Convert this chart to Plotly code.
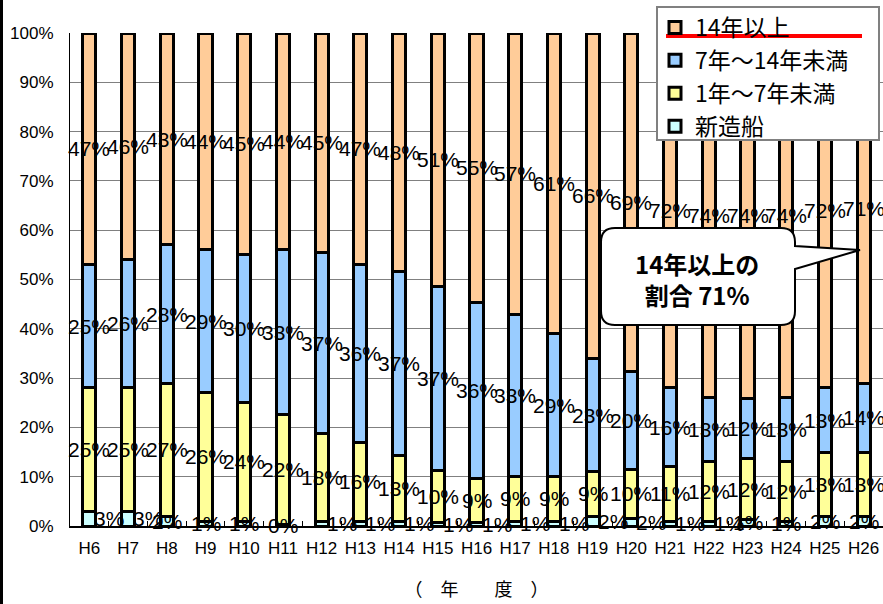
import plotly.graph_objects as go

# Fiscal years (Heisei era)
years = ["H6", "H7", "H8", "H9", "H10", "H11", "H12", "H13", "H14", "H15", "H16",
         "H17", "H18", "H19", "H20", "H21", "H22", "H23", "H24", "H25", "H26"]

# Share of vessels by age bracket (%)
new_ship = [3, 3, 2, 1, 1, 0.4, 1.0, 1, 1.0, 0.8, 0.8, 1, 1, 2, 1.6, 1, 1, 1.3, 1, 2, 2]
age_1_7 = [25, 25, 27, 26, 24, 22.2, 17.8, 16, 13.2, 10.4, 8.8, 9, 9, 9, 9.8, 11, 12, 12.3, 12, 13, 13]
age_7_14 = [25, 26, 28, 29, 30, 33.4, 36.6, 36, 37.4, 37.4, 35.8, 33, 29, 23, 20.0, 16, 13, 12.2, 13, 13, 14]
age_14_plus = [47, 46, 43, 44, 45, 44.0, 44.6, 47, 48.4, 51.4, 54.6, 57, 61, 66, 68.6, 72, 74, 74.2, 74, 72, 71]

series_names = ["新造船", "1年～7年未満", "7年～14年未満", "14年以上"]
series_values = [new_ship, age_1_7, age_7_14, age_14_plus]
series_colors = ["#CCFFFF", "#FFFF99", "#99CCFF", "#FFCC99"]

# horizontal nudge (px) for the thin new-ship labels
newship_label_dx = [20, 20, 0, 0, 0, 0, 20, 20, 20, 20, 20, 20, 20, 20, 20, 20, 20, 0, 0, 0, 0]

W, H = 883, 604
L, R, T, B = 70, 0, 33, 78
PW, PH = W - L - R, H - T - B


def px(x):
    return (x - L) / PW


def py(y):
    return (H - B - y) / PH


fig = go.Figure()
for name, vals, col in zip(series_names, series_values, series_colors):
    fig.add_trace(go.Bar(
        x=years, y=vals, name=name, width=0.34,
        marker=dict(color=col, line=dict(color="black", width=3)),
        legendgroup=name, hoverinfo="skip",
    ))

label_font = dict(family="Liberation Sans Narrow, Arial Narrow, Liberation Sans", size=21, color="black")
annotations = []
for i, yr in enumerate(years):
    base = 0.0
    for s, vals in enumerate(series_values):
        v = vals[i]
        annotations.append(dict(
            x=yr, y=base + v / 2, xref="x", yref="y",
            text=f"{round(v):.0f}%", showarrow=False, font=label_font,
            xshift=newship_label_dx[i] if s == 0 else 0,
        ))
        base += v

# callout text
annotations.append(dict(
    x=px(697), y=py(279), xref="paper", yref="paper",
    xanchor="center", yanchor="middle",
    text="<b>14年以上の<br>割合 71%</b>", showarrow=False,
    font=dict(family="Noto Sans CJK JP", size=24, color="black"),
    align="center",
))

# callout bubble with pointer
pts = [
    ("M", 615, 228), ("L", 781, 228), ("Q", 795, 228, 795, 242), ("L", 795, 246),
    ("L", 860, 250), ("L", 795, 269), ("L", 795, 311), ("Q", 795, 325, 781, 325),
    ("L", 615, 325), ("Q", 601, 325, 601, 311), ("L", 601, 242), ("Q", 601, 228, 615, 228),
]
path = ""
for p in pts:
    cmd, coords = p[0], p[1:]
    xy = []
    for k in range(0, len(coords), 2):
        xy.append(f"{px(coords[k]):.5f},{py(coords[k + 1]):.5f}")
    path += cmd + " ".join(xy) + " "
path += "Z"

shapes = [
    dict(type="path", path=path, xref="paper", yref="paper",
         fillcolor="white", line=dict(color="black", width=2), layer="above"),
    # legend frame
    dict(type="rect", xref="paper", yref="paper",
         x0=px(657), x1=px(879), y0=py(140), y1=py(7),
         fillcolor="white", line=dict(color="#808080", width=2), layer="above"),
    # red underline on the first legend entry
    dict(type="line", xref="paper", yref="paper",
         x0=px(666), x1=px(862), y0=py(36), y1=py(36),
         line=dict(color="#FF0000", width=4), layer="above"),
    # left page border
    dict(type="line", xref="paper", yref="paper",
         x0=px(1.5), x1=px(1.5), y0=py(0), y1=py(604),
         line=dict(color="black", width=3), layer="above"),
]

fig.update_layout(
    width=W, height=H,
    margin=dict(l=L, r=R, t=T, b=B),
    barmode="stack",
    plot_bgcolor="white", paper_bgcolor="white",
    font=dict(family="Liberation Sans, Arial", color="black"),
    showlegend=True,
    legend=dict(
        x=px(655), y=py(6), xanchor="left", yanchor="top",
        bgcolor="rgba(0,0,0,0)", borderwidth=0,
        traceorder="reversed", tracegroupgap=0,
        font=dict(family="Noto Sans CJK JP", size=23, color="black"),
    ),
    xaxis=dict(
        range=[-0.5, 20.5], showline=True, linecolor="black", linewidth=2,
        ticks="inside", tickson="boundaries", ticklen=5, tickcolor="black",
        tickangle=0, tickfont=dict(size=17), ticklabelstandoff=6,
        title=dict(text="（　年　　度　）", font=dict(family="Noto Sans CJK JP", size=18), standoff=26),
    ),
    yaxis=dict(
        range=[0, 100], dtick=10, ticksuffix="%",
        showgrid=True, gridcolor="#808080", gridwidth=1,
        showline=True, linecolor="black", linewidth=1,
        tickfont=dict(size=17), ticklabelstandoff=12, zeroline=False,
    ),
    annotations=annotations,
    shapes=shapes,
)

fig.write_html("out.html")
